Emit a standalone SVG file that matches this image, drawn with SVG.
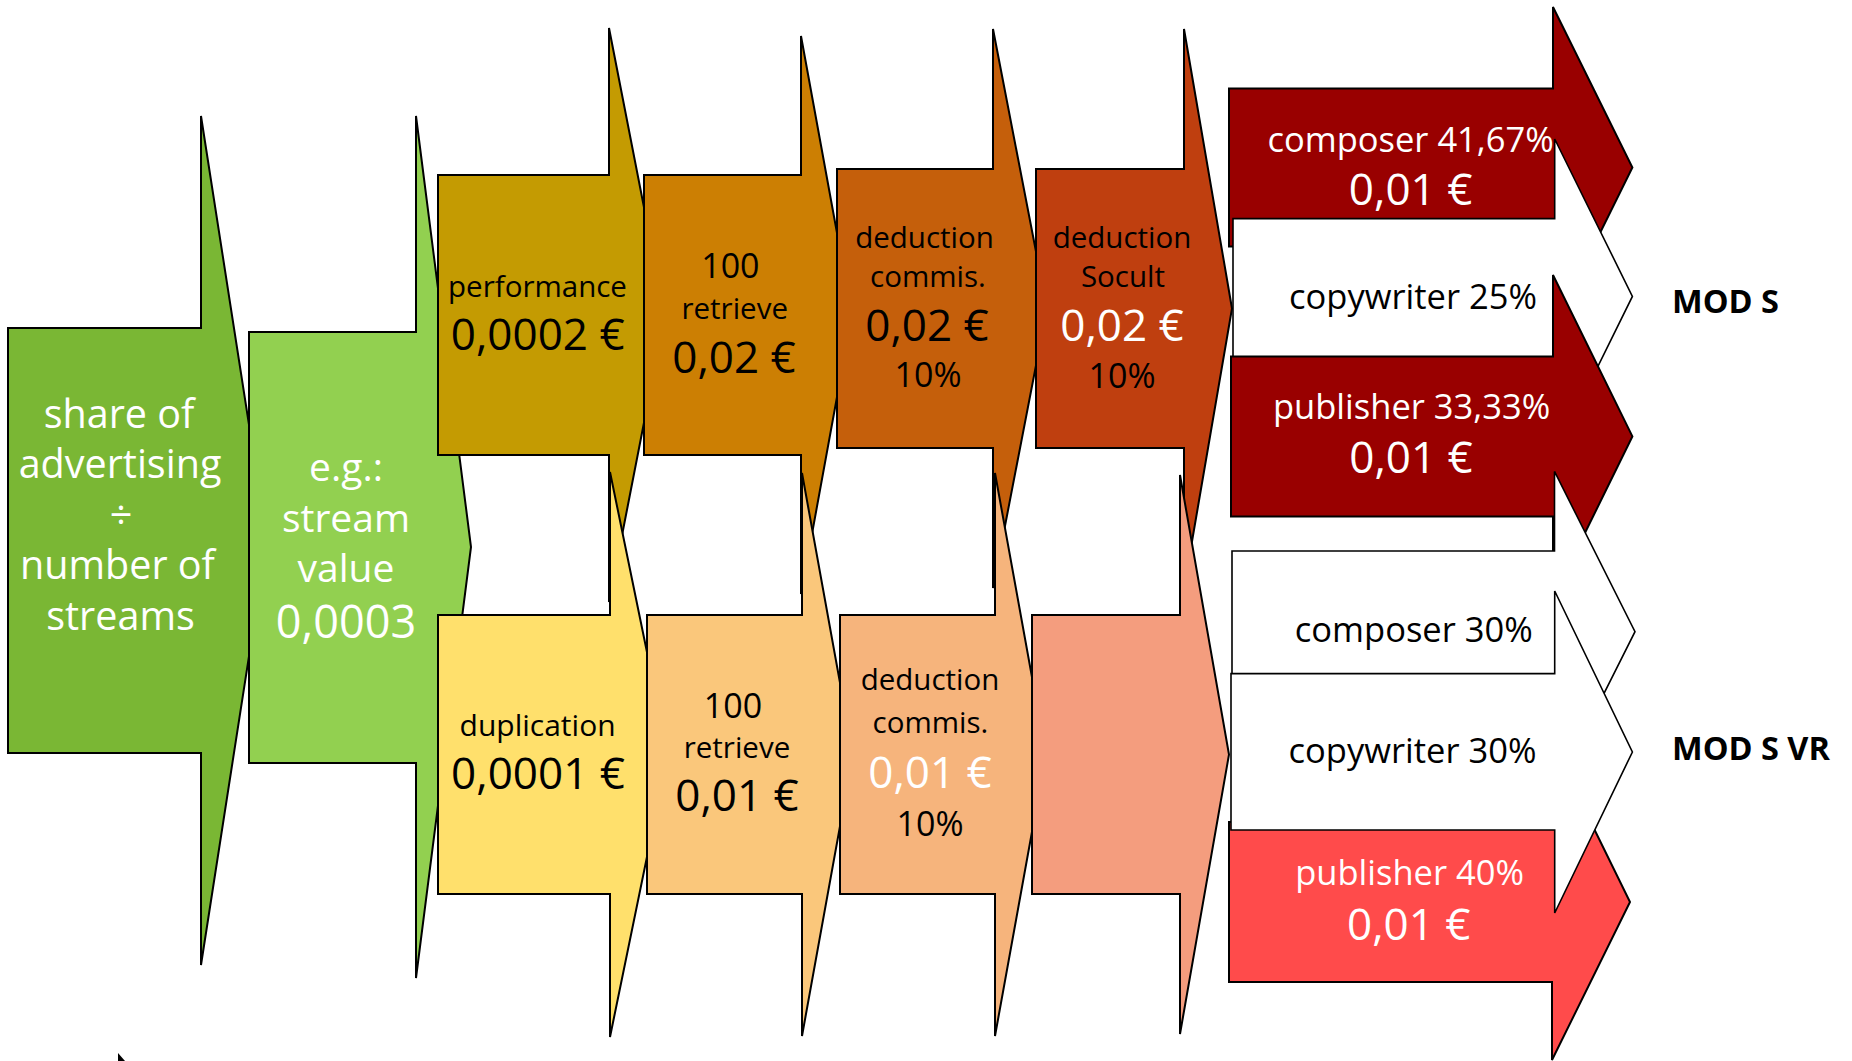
<svg xmlns="http://www.w3.org/2000/svg" width="1852" height="1061" viewBox="0 0 1852 1061">
<style>
.a{stroke:#000;stroke-width:2;stroke-linejoin:miter}
.w{stroke:#000;stroke-width:1.6;stroke-linejoin:miter;fill:#fff}
text{font-family:"Open Sans","Noto Sans","DejaVu Sans",sans-serif;text-anchor:middle}
.k{fill:#000}
.wt{fill:#fff}
.s{font-size:29.5px}
.v{font-size:44px}
.n{font-size:34px}
.o{font-size:34.5px}
.g{font-size:39.5px}
.b{font-family:"Open Sans","Noto Sans",sans-serif;font-weight:700;font-size:32.5px;text-anchor:start;fill:#000}
</style>
<rect width="1852" height="1061" fill="#fff"/>
<g id="connectors"/>
<g id="n-share">
<polygon class="a" fill="#7AB734" points="8,328 201,328 201,116 267,540.5 201,965 201,753 8,753"/>
<text class="wt g" x="119" y="427.6">share of</text>
<text class="wt g" x="120" y="478">advertising</text>
<text class="wt g" x="121" y="529">÷</text>
<text class="wt g" x="117.5" y="579">number of</text>
<text class="wt g" x="120.5" y="629.5">streams</text>
</g>
<g id="n-stream">
<polygon class="a" fill="#92D050" points="249,332 416,332 416,116 471,547 416,978 416,763 249,763"/>
<text class="wt g" x="346" y="481" style="font-size:39px">e.g.:</text>
<text class="wt g" x="346" y="531.5" style="font-size:39px">stream</text>
<text class="wt g" x="346" y="582" style="font-size:39px">value</text>
<text class="wt" x="346" y="638" style="font-size:45px">0,0003</text>
</g>
<g id="n-performance">
<polygon class="a" fill="#C49B02" points="438,175 609,175 609,28 665,315 609,602 609,455 438,455"/>
<text class="k s" x="537.5" y="296.7">performance</text>
<text class="k v" x="537.7" y="350">0,0002 €</text>
</g>
<g id="n-retrieve-top">
<polygon class="a" fill="#CC7F03" points="644,175 801,175 801,36 852,315 801,594 801,455 644,455"/>
<text class="k n" x="730.4" y="278">100</text>
<text class="k s" x="734.7" y="319">retrieve</text>
<text class="k v" x="734" y="373">0,02 €</text>
</g>
<g id="n-commis-top">
<polygon class="a" fill="#C55F0B" points="837,169 993,169 993,29 1047,308.5 993,588 993,448 837,448"/>
<text class="k s" x="924.5" y="248.3">deduction</text>
<text class="k s" x="928" y="286.7">commis.</text>
<text class="k v" x="927" y="340.7">0,02 €</text>
<text class="k n" x="928" y="386.7">10%</text>
</g>
<g id="n-socult">
<polygon class="a" fill="#BF3F0F" points="1036,169 1184,169 1184,29 1232,308.5 1184,588 1184,448 1036,448"/>
<text class="k s" x="1122" y="248.2">deduction</text>
<text class="k s" x="1123" y="286.8">Socult</text>
<text class="wt v" x="1122" y="341">0,02 €</text>
<text class="k n" x="1122" y="387.5">10%</text>
</g>
<g id="n-duplication">
<polygon class="a" fill="#FFE06C" points="438,615 610,615 610,472 668,754.5 610,1037 610,894 438,894"/>
<text class="k s" x="537.6" y="736.4" style="font-size:30px">duplication</text>
<text class="k v" x="538" y="789">0,0001 €</text>
</g>
<g id="n-retrieve-bottom">
<polygon class="a" fill="#FAC77B" points="647,615 802,615 802,473 853,754.5 802,1036 802,894 647,894"/>
<text class="k n" x="733" y="718">100</text>
<text class="k s" x="737" y="757.5">retrieve</text>
<text class="k v" x="737" y="811">0,01 €</text>
</g>
<g id="n-commis-bottom">
<polygon class="a" fill="#F6B47C" points="840,615 995,615 995,473 1046,754.5 995,1036 995,894 840,894"/>
<text class="k s" x="930" y="689.7">deduction</text>
<text class="k s" x="930.5" y="732.5">commis.</text>
<text class="wt v" x="930" y="788.3">0,01 €</text>
<text class="k n" x="930" y="835.8">10%</text>
</g>
<g id="n-empty-bottom">
<polygon class="a" fill="#F49D7E" points="1032,615 1180,615 1180,475 1229,754.5 1180,1034 1180,894 1032,894"/>
</g>
<g id="n-composer-s">
<polygon class="a" fill="#990000" points="1229,88.6 1553,88.6 1553,7 1632.4,167.5 1553,328 1553,246.4 1229,246.4"/>
<text class="wt o" x="1410.6" y="151.8">composer 41,67%</text>
<text class="wt v" x="1410.6" y="205.4">0,01 €</text>
</g>
<g id="n-copywriter-s">
<polygon class="w" points="1233,218.6 1554.7,218.6 1554.7,139 1632.4,296.4 1554.7,454 1554.7,374 1233,374"/>
<text class="k o" x="1413" y="309">copywriter 25%</text>
</g>
<g id="n-publisher-s">
<polygon class="a" fill="#990000" points="1231,356.4 1553,356.4 1553,275 1632.4,436.4 1553,598 1553,516.4 1231,516.4"/>
<text class="wt o" x="1411.6" y="418.6">publisher 33,33%</text>
<text class="wt v" x="1411" y="473.2">0,01 €</text>
</g>
<g id="n-composer-vr">
<polygon class="w" points="1232,551 1554.5,551 1554.5,471.4 1635,631.7 1554.5,792 1554.5,712 1232,712"/>
<text class="k o" x="1413.8" y="641.6">composer 30%</text>
</g>
<g id="n-publisher-vr">
<polygon class="a" fill="#FF4B4B" points="1229,822 1552,822 1552,743 1630,902 1552,1060 1552,982 1229,982"/>
<text class="wt o" x="1409.6" y="885">publisher 40%</text>
<text class="wt v" x="1408.8" y="940">0,01 €</text>
</g>
<g id="n-copywriter-vr">
<polygon class="w" points="1231,673.6 1554.7,673.6 1554.7,591 1632.4,752 1554.7,913 1554.7,830 1231,830"/>
<text class="k o" x="1412.5" y="763.3">copywriter 30%</text>
</g>
<g id="n-mod-s">
<text class="b" x="1672" y="312.5">MOD S</text>
</g>
<g id="n-mod-s-vr">
<text class="b" x="1672" y="760">MOD S VR</text>
</g>
<polygon points="118,1053 118,1061 125,1061" fill="#000"/>
</svg>
